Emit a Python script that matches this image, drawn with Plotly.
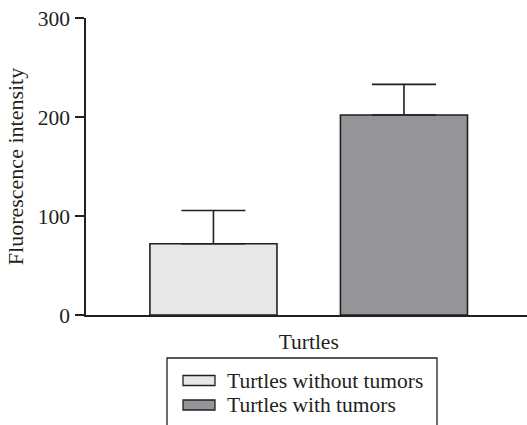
import plotly.graph_objects as go

categories = ["Turtles"]
series_names = ["Turtles without tumors", "Turtles with tumors"]
means = [72, 202]
errors_up = [33.5, 31]
colors = ["#e6e7e8", "#939598"]

W, H = 527, 425
L, R, T, B = 86, 0, 18, 110
pw, ph = W - L - R, H - T - B

def px(x):
    return (x - L) / pw

def py(y):
    return (H - B - y) / ph

fig = go.Figure()
for name, m, e, c in zip(series_names, means, errors_up, colors):
    fig.add_trace(go.Bar(
        x=categories, y=[m], name=name,
        marker=dict(color=c, line=dict(color="#231f20", width=1.6)),
        error_y=dict(type="data", array=[e], arrayminus=[0], symmetric=False,
                     color="#231f20", thickness=1.6, width=32),
        showlegend=False,
    ))

font = "Liberation Serif, Times New Roman, serif"
fs = 21.5

fig.update_layout(
    width=W, height=H,
    margin=dict(l=L, r=R, t=T, b=B, autoexpand=False),
    paper_bgcolor="white", plot_bgcolor="white",
    barmode="group", bargap=0.136, bargroupgap=0.333,
    font=dict(family=font, size=fs, color="#231f20"),
    xaxis=dict(range=[-0.505, 0.495], showline=True, linecolor="#231f20", linewidth=1.5,
               ticks="", showgrid=False, zeroline=False,
               tickfont=dict(size=fs), ticklabelstandoff=6),
    yaxis=dict(range=[0, 300], tickvals=[0, 100, 200, 300], showline=True,
               linecolor="#231f20", linewidth=1.5, ticks="outside", ticklen=9,
               tickwidth=1.5, tickcolor="#231f20", showgrid=False, zeroline=False,
               tickfont=dict(size=fs), ticklabelstandoff=1,
               title=dict(text="Fluorescence intensity", font=dict(size=22), standoff=8)),
    showlegend=False,
)

# legend box drawn manually to match the reference style
shapes = []
shapes.append(dict(type="path", xref="paper", yref="paper",
                   path=f"M {px(167)},{py(430)} L {px(167)},{py(358)} L {px(437)},{py(358)} L {px(437)},{py(430)}",
                   line=dict(color="#231f20", width=1.3)))
for i, (name, c) in enumerate(zip(series_names, colors)):
    yc = 380.5 + 24.5 * i
    shapes.append(dict(type="rect", xref="paper", yref="paper",
                       x0=px(183), x1=px(215), y0=py(yc - 5), y1=py(yc + 5),
                       fillcolor=c, line=dict(color="#231f20", width=1.3)))
    fig.add_annotation(xref="paper", yref="paper", x=px(225), y=py(yc),
                       text=name, showarrow=False, xanchor="left", yanchor="middle",
                       font=dict(family=font, size=fs, color="#231f20"))
fig.update_layout(shapes=shapes)

fig.write_html("out.html", config={"displayModeBar": False},
               post_script="document.body.style.margin='0';document.body.style.padding='0';")
